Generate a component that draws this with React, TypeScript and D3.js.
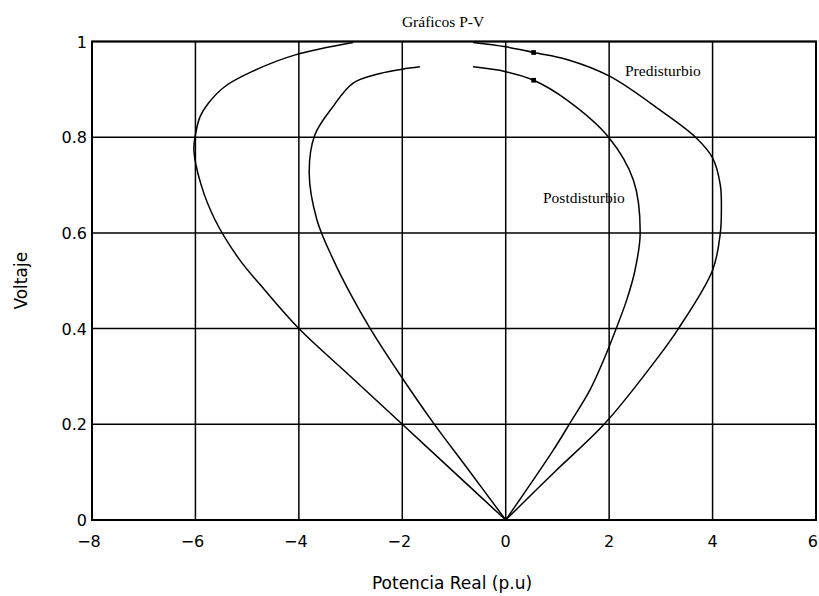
import React from 'react';
import * as d3 from 'd3';

// Predisturbio curve (P, V), from left end round to right end
const preP = [-2.95, -4.07, -4.91, -5.43, -5.75, -5.91, -6.0, -6.03, -5.9, -5.62, -5.14, -4.75, -4.0, -3.0, -2.0, -1.0, 0, 0.96, 1.92, 2.98, 3.34, 4.0, 4.15, 4.17, 4.15, 4.0, 3.67, 2.98, 2.0, 1.2, 0.54, 0, -0.63];
const preV = [0.998, 0.972, 0.937, 0.906, 0.871, 0.843, 0.805, 0.773, 0.704, 0.627, 0.543, 0.492, 0.4, 0.3, 0.2, 0.1, 0, 0.102, 0.202, 0.345, 0.4, 0.522, 0.6, 0.645, 0.7, 0.757, 0.8, 0.857, 0.928, 0.962, 0.977, 0.989, 0.998];

// Postdisturbio curve (P, V)
const postP = [-1.66, -2.0, -2.43, -2.95, -3.34, -3.69, -3.8, -3.65, -3.33, -3.01, -2.62, -2.04, -1.4, -0.7, 0, 0.92, 1.24, 1.63, 1.92, 2.15, 2.34, 2.5, 2.6, 2.47, 1.99, 1.18, 0.54, 0, -0.63];
const postV = [0.947, 0.942, 0.933, 0.913, 0.864, 0.805, 0.725, 0.627, 0.543, 0.474, 0.4, 0.303, 0.203, 0.102, 0, 0.146, 0.202, 0.272, 0.341, 0.404, 0.46, 0.522, 0.6, 0.71, 0.8, 0.878, 0.919, 0.937, 0.947];

// markers on each curve
const markP = [0.54, 0.54];
const markV = [0.977, 0.919];

const xTicks = [-8, -6, -4, -2, 0, 2, 4, 6];
const yTicks = [0, 0.2, 0.4, 0.6, 0.8, 1];

const W = 819;
const H = 596;
const left = 92;
const right = 816;
const top = 41.5;
const bottom = 520;

export default function App() {
  const x = d3.scaleLinear().domain([-8, 6]).range([left, right]);
  const y = d3.scaleLinear().domain([0, 1]).range([bottom, top]);

  const line = d3
    .line<number[]>()
    .x((d) => x(d[0]))
    .y((d) => y(d[1]))
    .curve(d3.curveCatmullRom.alpha(0.5));

  // split each curve at the origin so the tip stays sharp
  const branches = (ps: number[], vs: number[]) => {
    const pts = ps.map((p, i) => [p, vs[i]]);
    const k = pts.findIndex((d) => d[0] === 0 && d[1] === 0);
    return [pts.slice(0, k + 1), pts.slice(k)];
  };
  const paths = [...branches(preP, preV), ...branches(postP, postV)];
  const sq = d3.symbol(d3.symbolSquare, 22)() as string;

  const sans = 'DejaVu Sans, sans-serif';
  const serif = 'Liberation Serif, serif';

  return (
    <svg width={W} height={H} style={{ position: 'absolute', left: 0, top: 0, background: '#fff' }}>
      <rect width={W} height={H} fill="#fff" />
      {/* grid */}
      {xTicks.map((t) => (
        <line key={'gx' + t} x1={x(t)} x2={x(t)} y1={top} y2={bottom} stroke="#000" strokeWidth={1.5} />
      ))}
      {yTicks.map((t) => (
        <line key={'gy' + t} x1={left} x2={right} y1={y(t)} y2={y(t)} stroke="#000" strokeWidth={1.5} />
      ))}
      <rect x={left} y={top} width={right - left} height={bottom - top} fill="none" stroke="#000" strokeWidth={2} />

      {/* curves */}
      {paths.map((d, i) => (
        <path key={'c' + i} d={line(d) as string} fill="none" stroke="#000" strokeWidth={1.5} />
      ))}
      {markP.map((p, i) => (
        <path key={'m' + i} d={sq} transform={`translate(${x(p)},${y(markV[i])})`} fill="#000" />
      ))}

      {/* tick labels */}
      {xTicks.map((t, i) => {
        const last = i === xTicks.length - 1;
        return (
          <text
            key={'tx' + t}
            x={last ? W - 1 : x(t) - (t < 0 ? 3 : 0)}
            y={547}
            textAnchor={last ? 'end' : 'middle'}
            fontFamily={sans}
            fontSize={16}
          >
            {t < 0 ? '\u2212' + Math.abs(t) : t}
          </text>
        );
      })}
      {yTicks.map((t) => (
        <text key={'ty' + t} x={87} y={y(t) + 6} textAnchor="end" fontFamily={sans} fontSize={16}>
          {t}
        </text>
      ))}

      {/* labels */}
      <text x={443} y={27} textAnchor="middle" fontFamily={serif} fontSize={15.5}>
        Gráficos P-V
      </text>
      <text x={625} y={76} fontFamily={serif} fontSize={15.5}>
        Predisturbio
      </text>
      <text x={543} y={203} fontFamily={serif} fontSize={15.5}>
        Postdisturbio
      </text>
      <text x={452} y={589} textAnchor="middle" fontFamily={sans} fontSize={17}>
        Potencia Real (p.u)
      </text>
      <text transform={`translate(27,${(top + bottom) / 2}) rotate(-90)`} textAnchor="middle" fontFamily={sans} fontSize={17}>
        Voltaje
      </text>
    </svg>
  );
}
